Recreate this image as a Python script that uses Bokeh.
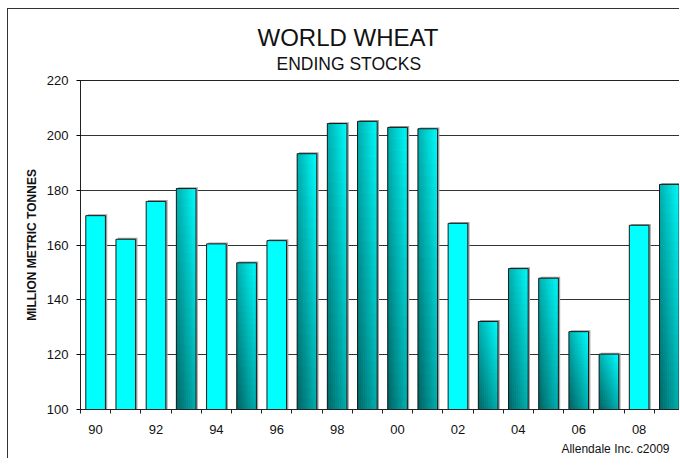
import numpy as np
from bokeh.plotting import figure
from bokeh.models import FixedTicker, Title, ColumnDataSource
from bokeh.transform import dodge
from bokeh.embed import file_html
from bokeh.resources import INLINE

# ---- data ----
years = ["90", "91", "92", "93", "94", "95", "96", "97", "98", "99",
         "00", "01", "02", "03", "04", "05", "06", "07", "08", "09"]
stocks = [170.7, 162.1, 175.9, 180.6, 160.4, 153.5, 161.6, 193.3, 204.3, 205.1,
          202.9, 202.4, 167.9, 132.1, 151.4, 147.9, 128.4, 120.2, 167.2, 182.1]
gradient = [False, False, False, True, False, True, False, True, True, True,
            True, True, False, True, True, True, True, True, False, True]
y_ticks = [100, 120, 140, 160, 180, 200, 220]

title = "WORLD WHEAT"
subtitle = "ENDING STOCKS"
y_label = "MILLION METRIC TONNES"
credit = "Allendale Inc. c2009"

FONT = "Liberation Sans"
CYAN = (0, 255, 255)
DARK = (0, 96, 96)
BAR_W = 0.65
BASE = 100

idx = list(range(len(years)))

p = figure(width=672, height=450, output_backend="svg", toolbar_location=None,
           x_range=(-0.5, 19.37), y_range=(100, 220),
           min_border_left=72, min_border_top=71, min_border_right=0,
           min_border_bottom=49)
p.styles = {"margin-left": "7px", "margin-top": "8px",
            "border-left": "1px solid #333", "border-top": "1px solid #333"}
p.outline_line_color = "#222"
p.outline_line_width = 1
p.background_fill_color = "white"
p.border_fill_color = "white"

# grid
p.xgrid.grid_line_color = None
p.ygrid.ticker = FixedTicker(ticks=y_ticks)
p.ygrid.grid_line_color = "#333333"
p.ygrid.grid_line_width = 1
p.ygrid.grid_line_alpha = 1.0

# y axis
p.yaxis.ticker = FixedTicker(ticks=y_ticks)
p.yaxis.axis_line_color = "#222"
p.yaxis.major_tick_in = 0
p.yaxis.major_tick_out = 4
p.yaxis.minor_tick_line_color = None
p.yaxis.major_label_text_font = FONT
p.yaxis.major_label_text_font_size = "13px"
p.yaxis.major_label_text_color = "#111"
p.yaxis.major_label_standoff = 8
p.yaxis.axis_label = y_label
p.yaxis.axis_label_text_font = FONT
p.yaxis.axis_label_text_font_size = "12px"
p.yaxis.axis_label_text_font_style = "bold"
p.yaxis.axis_label_text_color = "#111"
p.yaxis.axis_label_standoff = 5

# x axis: labels at even years (majors), tick marks at category boundaries (minors)
label_idx = [i for i in idx if i % 2 == 0]
p.xaxis.ticker = FixedTicker(ticks=label_idx,
                             minor_ticks=[i - 0.5 for i in idx] + [len(idx) - 0.5])
p.xaxis.major_label_overrides = {i: years[i] for i in label_idx}
p.xaxis.major_tick_line_color = None
p.xaxis.major_tick_out = 0
p.xaxis.major_tick_in = 0
p.xaxis.minor_tick_in = 0
p.xaxis.minor_tick_out = 4
p.xaxis.minor_tick_line_color = "#222"
p.xaxis.axis_line_color = "#222"
p.xaxis.major_label_text_font = FONT
p.xaxis.major_label_text_font_size = "13px"
p.xaxis.major_label_text_color = "#111"
p.xaxis.major_label_standoff = 11

# shadow
src = ColumnDataSource(dict(x=idx, top=[v + 0.5 for v in stocks]))
p.vbar(x=dodge("x", 0.06, range=p.x_range), top="top", bottom=BASE, width=BAR_W,
       fill_color="#a0a0a0", line_color=None, source=src)

# base bars
flat_fill = ["#00ffff" if not g else "#00b0b0" for g in gradient]
p.vbar(x=idx, top=stocks, bottom=BASE, width=BAR_W, fill_color=flat_fill,
       line_color=None)

# gradient bars built from cells
NX, NY = 10, 24
ql, qr, qb, qt, qc = [], [], [], [], []
for i, v, g in zip(idx, stocks, gradient):
    if not g:
        continue
    left = i - BAR_W / 2
    h = v - BASE
    for cx in range(NX):
        xf = (cx + 0.5) / NX
        for cy in range(NY):
            yf = (cy + 0.5) / NY
            t = min(1.0, 0.5 * (1 - xf) + 0.5 * (1 - yf))
            col = tuple(int(round(CYAN[k] + (DARK[k] - CYAN[k]) * t)) for k in range(3))
            ql.append(left + BAR_W * cx / NX)
            qr.append(min(left + BAR_W, left + BAR_W * (cx + 1.15) / NX))
            qb.append(BASE + h * cy / NY)
            qt.append(min(v, BASE + h * (cy + 1.15) / NY))
            qc.append("#%02x%02x%02x" % col)
p.quad(left=ql, right=qr, bottom=qb, top=qt, fill_color=qc, line_color=None)

# outlines
p.vbar(x=idx, top=stocks, bottom=BASE, width=BAR_W, fill_color=None,
       line_color="#1a1a1a", line_width=1)

# titles & credit
p.add_layout(Title(text=subtitle, align="left", offset=196, standoff=13,
                   text_font=FONT, text_font_size="17.5px", text_font_style="normal",
                   text_color="#111"), "above")
p.add_layout(Title(text=title, align="left", offset=177, standoff=-10,
                   text_font=FONT, text_font_size="24px", text_font_style="normal",
                   text_color="#111"), "above")
p.add_layout(Title(text=credit, align="right", offset=11, standoff=7,
                   text_font=FONT, text_font_size="12px", text_font_style="normal",
                   text_color="#111"), "below")

open("out.html", "w").write(file_html(p, INLINE))
